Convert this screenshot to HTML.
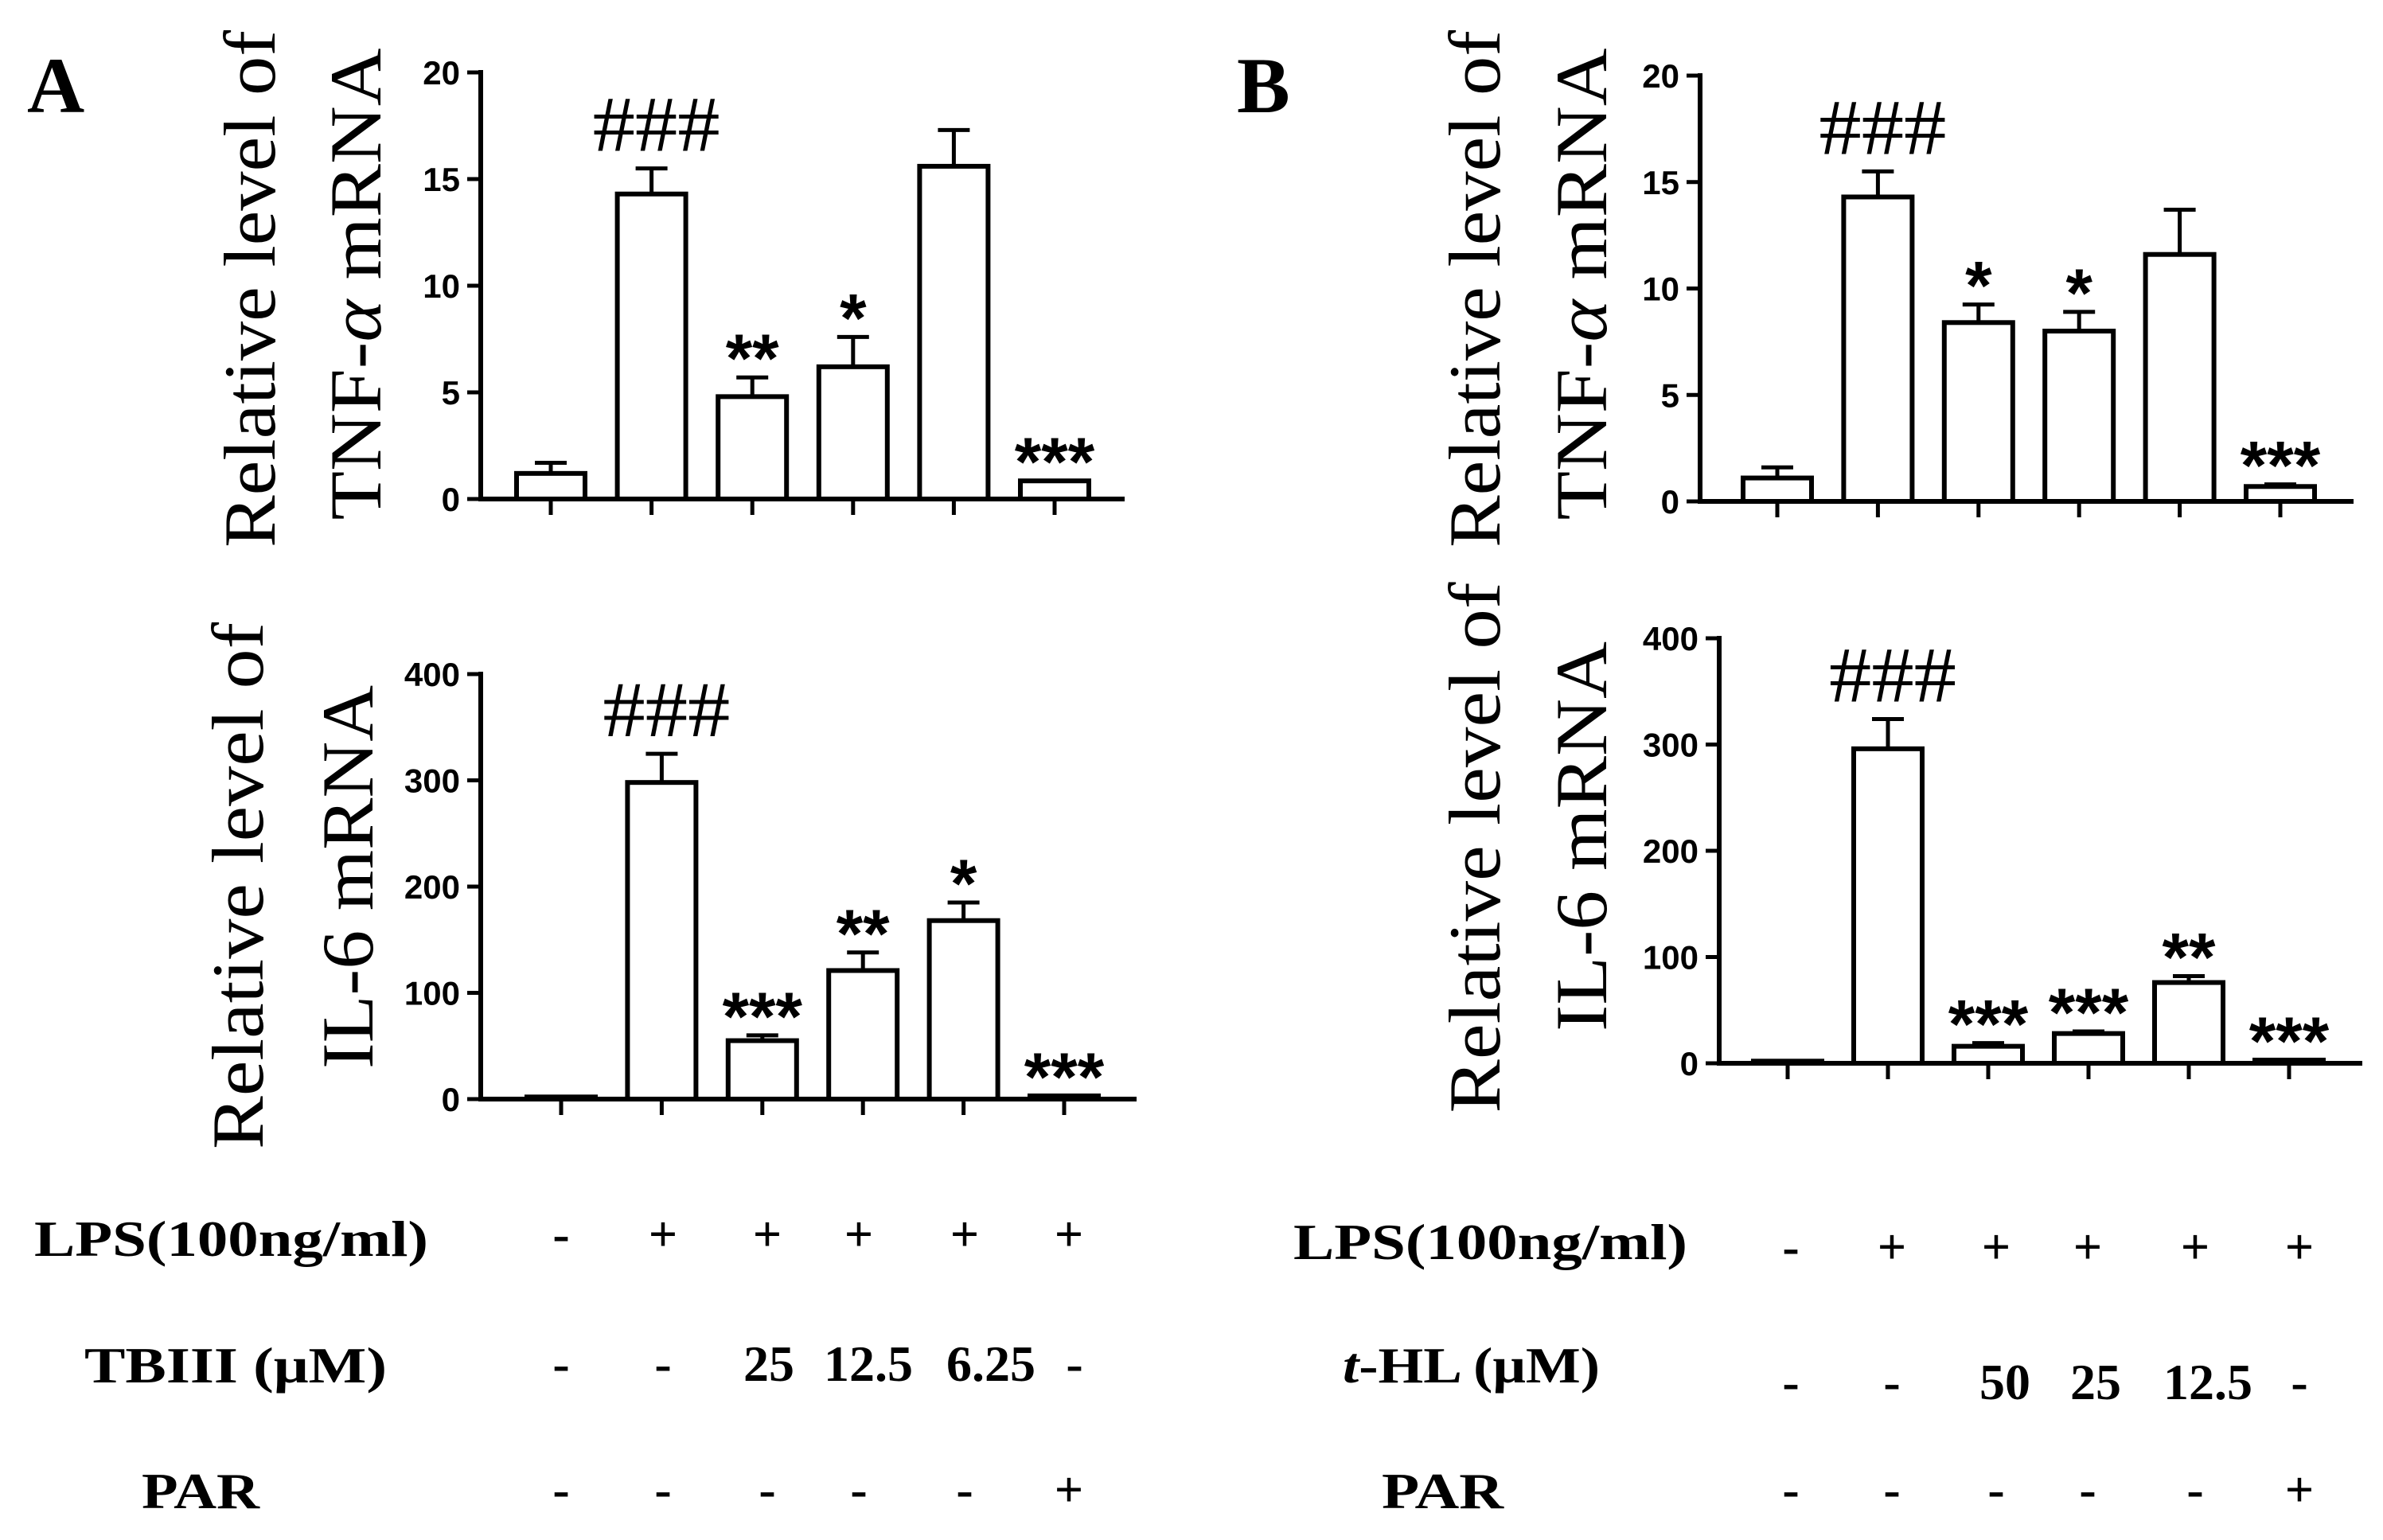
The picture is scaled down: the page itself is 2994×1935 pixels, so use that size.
<!DOCTYPE html>
<html><head><meta charset="utf-8"><style>
html,body{margin:0;padding:0;background:#fff;}
svg{display:block;}
.tk{font-family:"Liberation Sans",sans-serif;font-weight:bold;font-size:42px;}
.yt{font-family:"Liberation Serif",serif;font-size:92px;}
.tb{font-family:"Liberation Serif",serif;font-weight:bold;font-size:64px;}
.as{font-family:"Liberation Sans",sans-serif;font-weight:bold;font-size:86px;}
.hs{font-family:"Liberation Serif",serif;font-size:100px;}
</style></head><body>
<svg id="fig" width="2994" height="1935" viewBox="0 0 2994 1935" xmlns="http://www.w3.org/2000/svg">
<text x="34" y="141" font-family="Liberation Serif,serif" font-weight="bold" font-size="100">A</text>
<text x="1554" y="141" font-family="Liberation Serif,serif" font-weight="bold" font-size="100">B</text>
<g id="plots"></g>
<g id="table"></g>
</svg>
<script>
// ---- data ----
const groups = ["ctrl","LPS","D1","D2","D3","PAR"];
const aTnfVals = [1.2, 14.3, 4.8, 6.2, 15.6, 0.85];
const aTnfErr  = [0.5, 1.2, 0.9, 1.4, 1.7, 0.0];
const aTnfSig  = ["", "###", "**", "*", "", "***"];
const aIl6Vals = [2, 298, 55, 121, 168, 3];
const aIl6Err  = [0, 27, 5, 17, 17, 0];
const aIl6Sig  = ["", "###", "***", "**", "*", "***"];
const bTnfVals = [1.1, 14.3, 8.4, 8.0, 11.6, 0.7];
const bTnfErr  = [0.5, 1.2, 0.85, 0.9, 2.1, 0.1];
const bTnfSig  = ["", "###", "*", "*", "", "***"];
const bIl6Vals = [2, 296, 16, 28, 76, 3];
const bIl6Err  = [0, 28, 3, 2, 6, 0];
const bIl6Sig  = ["", "###", "***", "***", "**", "***"];
const tnfTicks = [0,5,10,15,20];
const il6Ticks = [0,100,200,300,400];

const NS="http://www.w3.org/2000/svg";
const root=document.getElementById('plots');
function mk(tag,attrs,parent){const e=document.createElementNS(NS,tag);for(const k in attrs)e.setAttribute(k,attrs[k]);(parent||root).appendChild(e);return e;}

function plot(cfg){
  const g=mk('g',{});
  
  
  const y=v=>cfg.y0-(v/cfg.max)*(cfg.y0-cfg.yTop);
  const x=i=>cfg.c0+i*cfg.step;
  const ya=mk('line',{x1:cfg.ax,y1:cfg.yTop-3,x2:cfg.ax,y2:cfg.y0+3,stroke:'#000','stroke-width':6},g);
  
  
  const xa=mk('line',{x1:cfg.ax-3,y1:cfg.y0,x2:cfg.axEnd,y2:cfg.y0,stroke:'#000','stroke-width':6},g);
  
  
  cfg.ticks.forEach(t=>{
    mk('line',{x1:cfg.ax-17,y1:y(t),x2:cfg.ax,y2:y(t),stroke:'#000','stroke-width':5},g);
    const tl=mk('text',{x:cfg.ax-26,y:y(t)+15,'text-anchor':'end',class:'tk'},g);
    tl.textContent=t;
    
    
  });
  cfg.vals.forEach((v,i)=>{
    const cx=x(i), bw=86;
    mk('line',{x1:cx,y1:cfg.y0,x2:cx,y2:cfg.y0+20,stroke:'#000','stroke-width':5},g);
    const top=y(v);
    const r=mk('rect',{x:cx-bw/2,y:top,width:bw,height:Math.max(cfg.y0-top,1),fill:'#fff',stroke:'#000','stroke-width':6},g);
    
    
    const et=y(v+cfg.err[i]);
    if(cfg.err[i]>0){
      mk('line',{x1:cx,y1:top,x2:cx,y2:et,stroke:'#000','stroke-width':5},g);
      mk('line',{x1:cx-20,y1:et,x2:cx+20,y2:et,stroke:'#000','stroke-width':5},g);
    }
    const s=cfg.sig[i];
    if(s){
      let t;
      if(s[0]==='#'){
        t=mk('text',{x:cx+6,y:et-22,'text-anchor':'middle',class:'hs',textLength:160,lengthAdjust:'spacingAndGlyphs'},g);
      } else {
        t=mk('text',{x:cx,y:et+6,'text-anchor':'middle',class:'as'},g);
      }
      t.textContent=s;
      
      
    }
  });
  const t1=mk('text',{transform:`translate(${cfg.t1x},${cfg.t1c}) rotate(-90)`,'text-anchor':'middle',class:'yt',textLength:cfg.t1len,lengthAdjust:'spacingAndGlyphs'},g);
  t1.textContent='Relative level of';
  
  
  const t2=mk('text',{transform:`translate(${cfg.t2x},${cfg.t2c}) rotate(-90)`,'text-anchor':'middle',class:'yt',textLength:cfg.t2len,lengthAdjust:'spacingAndGlyphs'},g);
  t2.innerHTML=cfg.t2;
  
  
}
const TNF='TNF-<tspan font-style="italic">α</tspan> mRNA';
plot({name:'chart-a-tnf',vals:aTnfVals,err:aTnfErr,sig:aTnfSig,ticks:tnfTicks,max:20,ax:604,axEnd:1413,yTop:91,y0:627,c0:692,step:126.6,
  t1x:345,t1c:363,t1len:650,t2x:478,t2c:357,t2len:593,t2:TNF});
plot({name:'chart-a-il6',vals:aIl6Vals,err:aIl6Err,sig:aIl6Sig,ticks:il6Ticks,max:400,ax:604,axEnd:1428,yTop:847,y0:1381,c0:705,step:126.4,
  t1x:330,t1c:1113,t1len:662,t2x:468,t2c:1102,t2len:482,t2:'IL-6 mRNA'});
plot({name:'chart-b-tnf',vals:bTnfVals,err:bTnfErr,sig:bTnfSig,ticks:tnfTicks,max:20,ax:2136,axEnd:2957,yTop:95,y0:630,c0:2233,step:126.4,
  t1x:1884,t1c:363,t1len:650,t2x:2018,t2c:357,t2len:593,t2:TNF});
plot({name:'chart-b-il6',vals:bIl6Vals,err:bIl6Err,sig:bIl6Sig,ticks:il6Ticks,max:400,ax:2160,axEnd:2968,yTop:802,y0:1336,c0:2246,step:126,
  t1x:1884,t1c:1065,t1len:667,t2x:2018,t2c:1051,t2len:490,t2:'IL-6 mRNA'});

// ---- treatment table ----
const tab=document.getElementById('table');
const lpsRow=["-","+","+","+","+","+"];
const aDoseRow=["-","-","25","12.5","6.25","-"];
const bDoseRow=["-","-","50","25","12.5","-"];
const parRow=["-","-","-","-","-","+"];
function tx(x,y,s,name,extra){const t=mk('text',Object.assign({x:x,y:y,class:'tb'},extra||{}),tab);t.innerHTML=s;
  
  return t;}
tx(43,1578,'LPS(100ng/ml)','row-label-lps',{textLength:495,lengthAdjust:'spacingAndGlyphs'});
tx(106,1737,'TBIII (μM)','row-label-tbiii',{textLength:380,lengthAdjust:'spacingAndGlyphs'});
tx(178,1895,'PAR','row-label-par',{textLength:148,lengthAdjust:'spacingAndGlyphs'});
tx(1625,1582,'LPS(100ng/ml)','row-label-lps-b',{textLength:495,lengthAdjust:'spacingAndGlyphs'});
tx(1687,1737,'<tspan font-style="italic">t</tspan>-HL (μM)','row-label-thl',{textLength:323,lengthAdjust:'spacingAndGlyphs'});
tx(1736,1895,'PAR','row-label-par-b',{textLength:153,lengthAdjust:'spacingAndGlyphs'});
const aCols=[705,833,964,1079,1212,1343];
const aDoseX=[705,833,966,1091,1245,1350];
const bCols=[2250,2377,2508,2623,2758,2889];
const bDoseX=[2250,2377,2519,2633,2774,2889];
function rowSyms(xs,row,y,name){row.forEach((s,i)=>tx(xs[i],y,s,name,{'text-anchor':'middle'}));}
rowSyms(aCols,lpsRow,1572,'lps-cell');
rowSyms(aDoseX,aDoseRow,1735,'dose-cell');
rowSyms(aCols,parRow,1893,'par-cell');
rowSyms(bCols,lpsRow,1588,'lps-cell');
rowSyms(bDoseX,bDoseRow,1758,'dose-cell');
rowSyms(bCols,parRow,1893,'par-cell');
</script>
</body></html>
